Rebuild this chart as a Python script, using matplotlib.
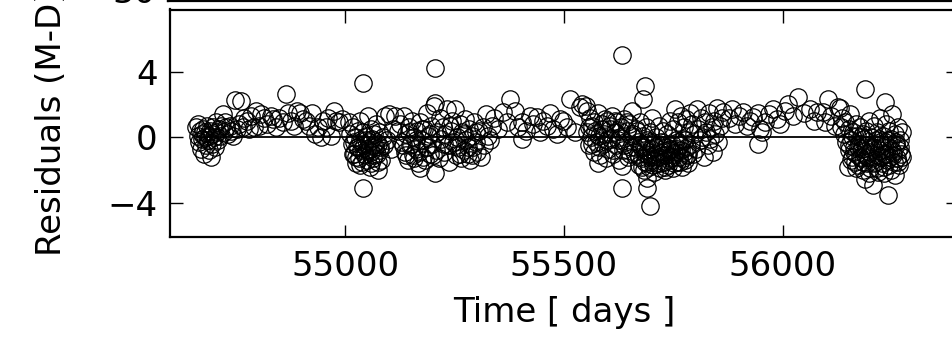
import matplotlib
matplotlib.use('Agg')
import matplotlib.pyplot as plt

##################
# Data
##################

# season 1
days1 = [54660, 54663, 54665, 54667, 54669, 54671, 54672, 54674, 54676, 54677,
         54679, 54681, 54683, 54684, 54686, 54688, 54689, 54691, 54693, 54695,
         54697, 54699, 54701, 54703, 54705, 54707, 54709, 54712, 54714, 54717,
         54720, 54723, 54726, 54729, 54732, 54736, 54740, 54744, 54749, 54752,
         54757, 54762, 54766, 54770, 54775, 54781, 54786, 54791, 54797, 54803,
         54808, 54815, 54822, 54830, 54836, 54843, 54850, 54858, 54866, 54870,
         54876, 54884, 54890, 54897, 54904, 54911, 54918, 54924, 54931, 54937,
         54944, 54950, 54956, 54962, 54968, 54974, 54980, 54986, 54992]
res1 = [0.6, 0.1, 0.8, -0.3, 0.4, -0.7, 0.2, -0.1, 0.5, -1.0,
        0.0, 0.3, -0.5, 0.7, -0.2, 0.1, -0.8, 0.4, -1.2, 0.2,
        -0.4, 0.6, 0.0, -0.6, 0.9, 0.3, -0.2, 0.5, 0.1, 0.7,
        1.4, 0.3, 0.9, 0.6, 0.2, 0.7, 0.4, 0.1, 2.3, 0.5,
        0.8, 2.2, 0.6, 1.2, 1.0, 0.5, 1.3, 0.6, 1.6, 0.7,
        1.4, 1.2, 0.8, 1.3, 1.1, 0.6, 1.2, 0.9, 2.65, 1.5,
        1.0, 0.7, 1.6, 1.5, 1.1, 1.0, 0.7, 1.5, 0.2, 0.6,
        0.0, 1.0, 0.6, 1.2, 0.1, 1.6, 1.0, 0.9, 1.1]

# season 2
daysB = [55008, 55012, 55015, 55018, 55020, 55022, 55025, 55027, 55029, 55031,
         55033, 55035, 55037, 55038, 55040, 55040, 55042, 55044, 55046, 55048,
         55050, 55052, 55054, 55056, 55058, 55060, 55062, 55064, 55066, 55068,
         55070, 55072, 55074, 55076, 55078, 55080, 55083, 55086, 55089, 55092,
         55096, 55100, 55105, 55110, 55115, 55120]
resB = [0.9, 0.2, -0.4, 0.6, -1.0, 0.0, -1.6, -0.6, 0.4, -1.3,
        -0.2, 1.0, -0.8, -1.5, 3.3, -3.1, 0.3, -0.5, -1.1, 0.1,
        -0.7, 1.3, -0.3, -1.8, 0.5, -0.9, -0.1, -1.3, 0.2, -0.6,
        0.8, -1.0, -2.0, -0.4, 0.3, -0.8, -1.4, 0.0, -0.5, 1.3,
        -0.2, 1.4, -0.7, 0.5, 1.3, 0.4]
daysB2 = [55017, 55021, 55026, 55030, 55034, 55039, 55043, 55047, 55051, 55055,
          55059, 55063, 55067, 55071, 55075, 55079]
resB2 = [-1.0, -0.3, -1.2, -0.6, -1.7, -0.4, -1.0, -0.2, -1.4, -0.8,
         -1.6, -0.5, -1.1, -0.3, -1.5, -0.6]

daysC = [55126, 55130, 55134, 55137, 55140, 55143, 55146, 55149, 55152, 55155,
         55158, 55161, 55164, 55167, 55170, 55172, 55175, 55178, 55181, 55184,
         55187, 55190, 55193, 55196, 55199, 55202, 55205, 55205, 55205, 55208,
         55211, 55214, 55217, 55220, 55223, 55226, 55229, 55232, 55235, 55238,
         55241, 55244, 55247, 55250, 55253, 55256, 55259, 55262, 55265, 55268,
         55271, 55274, 55277, 55280, 55283, 55286, 55289, 55292, 55295, 55298,
         55302, 55306, 55310, 55314, 55318, 55322, 55326, 55330, 55335, 55340]
resC = [0.8, -0.3, 1.3, -0.9, 0.2, -1.4, 0.6, -0.5, 1.0, -1.1,
        0.0, -0.7, 0.4, -1.6, -1.9, 0.9, -0.2, -1.2, 0.5, -0.6,
        1.5, 0.1, -1.0, 0.7, -0.4, 1.9, 4.2, -2.2, 2.1, -0.8,
        0.3, -1.3, 1.2, -0.1, 0.6, -0.9, 0.2, 1.7, -0.5, -1.5,
        0.4, 1.0, -0.3, 1.75, -1.1, 0.0, -0.6, 0.8, -1.3, 0.3,
        -0.8, 1.1, -0.2, -1.0, 0.5, -1.4, 0.1, -0.6, 0.9, -0.3,
        -0.9, 0.4, -1.2, 0.6, -0.5, 1.4, 0.1, -0.2, 0.7, 1.2]
daysC2 = [55133, 55139, 55145, 55151, 55157, 55163, 55169, 55176, 55182, 55188,
          55194, 55200, 55227, 55240, 55254, 55263, 55272, 55281, 55290, 55299]
resC2 = [-0.5, -1.1, 0.3, -0.4, -1.3, -0.2, -0.9, 0.5, -1.4, -0.6,
         0.2, -1.1, -0.4, 0.7, -0.5, -1.0, 0.2, -0.6, -1.1, 0.3]

daysS2 = [55350, 55361, 55370, 55377, 55388, 55396, 55404, 55404, 55414, 55422,
          55430, 55438, 55446, 55452, 55461, 55468, 55476, 55484, 55491, 55498,
          55506, 55514, 55525, 55537, 55541, 55553]
resS2 = [0.5, 1.55, 0.9, 2.35, 1.6, 0.6, -0.1, 0.95, 0.4, 1.3,
         0.8, 1.25, 0.3, 1.0, 0.7, 1.45, 0.5, 0.2, 1.1, 1.0,
         0.6, 2.35, 0.3, 1.85, 2.05, 1.6]

# season 3
daysD = [55550, 55553, 55556, 55559, 55562, 55565, 55568, 55571, 55574, 55577,
         55578, 55580, 55583, 55586, 55589, 55592, 55595, 55598, 55601, 55604,
         55607, 55610, 55613, 55616, 55619, 55622, 55625, 55628, 55631, 55632,
         55632, 55632, 55634, 55637, 55640, 55643, 55646, 55649, 55652, 55655,
         55658, 55661, 55664]
resD = [1.9, 0.3, -0.5, 1.2, 0.0, 0.7, -0.9, 0.4, -0.3, 1.5,
        -1.6, 0.1, -1.1, 0.8, -0.4, 0.2, -1.3, 1.0, -0.7, 0.5,
        -0.1, 1.3, -1.0, 0.3, -0.5, 0.9, -1.4, 0.0, 0.6, 5.0,
        -3.1, -1.75, -0.8, 1.1, -0.3, 0.4, -1.2, 0.8, -0.6, 1.6,
        0.2, -0.9, 0.5]
daysD2 = [55557, 55563, 55569, 55575, 55581, 55587, 55593, 55599, 55605, 55611,
          55617, 55623, 55629, 55638, 55644, 55650, 55656, 55662]
resD2 = [0.6, -0.4, 0.9, 0.2, -0.6, 0.5, 1.1, -0.2, 0.7, -0.8,
         1.0, -0.2, 0.4, -0.5, 0.9, -1.0, 0.1, -0.6]

daysE = [55666, 55668, 55670, 55672, 55674, 55676, 55678, 55680, 55680, 55682,
         55684, 55685, 55686, 55688, 55690, 55690, 55690, 55692, 55694, 55696,
         55696, 55698, 55700, 55702, 55704, 55706, 55708, 55710, 55712, 55714,
         55716, 55718, 55720, 55722, 55724, 55726, 55728, 55730, 55732, 55734,
         55736, 55738, 55740, 55742, 55744, 55746, 55748, 55750, 55752, 55753,
         55755, 55757, 55759, 55761, 55763, 55765, 55767, 55769, 55771, 55773,
         55775, 55777, 55779, 55781, 55783, 55785, 55787]
resE = [0.4, -1.0, -0.3, -1.7, 0.9, -0.6, -1.3, 2.35, 0.1, -2.0,
        -0.8, 3.15, -1.5, 0.6, -3.1, -2.5, -0.2, -1.1, -1.8, -4.2,
        0.3, -0.7, -1.4, 1.2, -0.4, -2.1, -1.0, 0.0, -1.6, -0.5,
        0.7, -1.2, -1.9, -0.3, -0.9, 0.4, -1.5, -2.0, -0.6, -1.1,
        0.2, -1.7, -0.8, 1.0, -1.3, -0.4, -1.9, 0.5, -1.0, 1.75,
        -0.2, -1.5, -0.7, 0.9, -1.2, -0.5, 1.3, -1.8, -0.1, -0.9,
        0.6, -1.4, 1.1, -0.6, -1.0, 0.3, 1.5]
daysE2 = [55671, 55675, 55679, 55683, 55687, 55691, 55695, 55699, 55703, 55707,
          55711, 55715, 55719, 55723, 55727, 55731, 55735, 55739, 55743, 55747,
          55751, 55756, 55760, 55764, 55768, 55772, 55776, 55780, 55784]
resE2 = [-1.2, -0.4, -1.8, -0.6, -1.0, -1.6, -0.3, -1.2, -1.7, -0.6,
         -1.3, -0.9, -1.6, -0.5, -1.1, -1.8, -0.4, -1.4, -0.7, -1.2,
         -1.6, -0.9, -0.3, -1.5, -0.8, -1.3, -0.2, -1.1, -1.6]

daysF = [55790, 55793, 55795, 55798, 55801, 55804, 55807, 55810, 55813, 55816,
         55819, 55822, 55825, 55828, 55831, 55834, 55837, 55840, 55843, 55846,
         55849, 55852, 55856, 55860, 55864]
resF = [-0.4, 0.8, -1.0, 0.2, -0.7, 1.75, 0.5, -0.2, 1.2, 0.0,
        -1.2, 0.9, 0.3, -0.5, 1.5, -0.1, 0.6, -0.9, 1.0, 0.2,
        1.8, -0.3, 0.7, 1.2, 1.55]

daysS3 = [55876, 55884, 55890, 55900, 55909, 55918, 55925, 55932, 55943, 55943,
          55947, 55952, 55959, 55968, 55977, 55986, 55993, 56005, 56011, 56022,
          56034, 56048, 56062, 56070, 56078, 56091, 56097, 56103, 56110, 56118,
          56125]
resS3 = [1.2, 1.75, 0.8, 1.3, 1.55, 0.7, 1.0, 1.25, 1.45, -0.4,
         0.5, 0.3, 0.95, 1.4, 1.75, 1.1, 0.8, 1.6, 2.05, 1.3,
         2.45, 1.5, 1.75, 1.0, 1.55, 1.55, 0.9, 2.35, 1.3, 0.7,
         1.85]

# season 4
daysG = [56130, 56133, 56136, 56139, 56142, 56145, 56148, 56150, 56152, 56154,
         56156, 56158, 56160, 56162, 56164, 56166, 56168, 56170, 56172, 56174,
         56176, 56178, 56180, 56182, 56184, 56186, 56187, 56187, 56188, 56190,
         56192, 56194, 56196, 56198, 56200, 56202, 56204, 56205, 56206, 56208,
         56210, 56212, 56214, 56216, 56218, 56220, 56222, 56224, 56226, 56228,
         56230, 56232, 56233, 56234, 56236, 56238, 56240, 56240, 56242, 56244,
         56246, 56248, 56250, 56252, 56254, 56256, 56258, 56260, 56262, 56264,
         56266, 56268, 56270, 56272]
resG = [1.8, 0.6, 1.2, 0.2, 0.9, -0.3, -1.8, 0.5, -0.8, 1.4,
        -0.2, -1.2, 0.3, -0.6, -1.5, 0.8, -1.0, 0.1, -1.7, -0.4,
        0.6, -1.3, -0.7, 0.2, -2.0, -0.1, 2.95, -2.55, -1.1, 0.4,
        -1.6, -0.5, 1.0, -0.9, -1.9, 0.0, -1.3, -2.95, -0.6, 0.7,
        -1.5, -0.2, -1.1, 0.3, -2.1, -0.8, 1.2, -0.4, -1.6, 0.1,
        -1.0, -1.8, 2.15, -0.3, 0.8, -1.4, -3.55, -0.6, 0.4, -1.2,
        -2.0, -0.1, 1.4, -0.9, -1.5, 0.2, -0.5, -1.3, 0.6, -0.8,
        -1.7, -0.2, -1.0, 0.3]
daysG2 = [56151, 56155, 56159, 56163, 56167, 56171, 56175, 56179, 56183, 56189,
          56193, 56197, 56201, 56207, 56211, 56215, 56219, 56223, 56227, 56231,
          56235, 56239, 56243, 56247, 56251, 56255, 56259, 56263, 56267, 56271]
resG2 = [-0.5, -1.4, 0.1, -0.9, -1.9, -0.6, -1.2, 0.0, -1.5, -0.5,
         -1.2, -2.2, -0.7, -1.6, -0.4, -1.9, -0.1, -1.2, -0.6, -2.2,
         -1.0, -0.2, -1.7, -0.7, -1.1, -2.3, -0.3, -1.5, -0.6, -1.2]

xticks = [55000, 55500, 56000]
yticks = [-4, 0, 4]

#############################
# Figure
#############################

W, H = 953, 339
fig = plt.figure(figsize=(W/100., H/100.), dpi=100)
plt.rcParams['font.family'] = 'DejaVu Sans'
fs = 24.5

left = 170./W
width = 788./W
ax = fig.add_axes([left, 1-237./H, width, (237.-9.5)/H])

all_days = (days1 + daysB + daysB2 + daysC + daysC2 + daysS2 + daysD + daysD2
            + daysE + daysE2 + daysF + daysS3 + daysG + daysG2)
all_res = (res1 + resB + resB2 + resC + resC2 + resS2 + resD + resD2
           + resE + resE2 + resF + resS3 + resG + resG2)

ax.plot([min(all_days), max(all_days)], [0, 0], '-', color='k', lw=1.3, zorder=1)
ax.plot(all_days, all_res, 'o', mfc='none', mec='k', mew=0.9, ms=12.5, zorder=2)

ax.set_xlim(54600, 56400)
ax.set_ylim(-6.1, 7.8)
ax.set_xticks(xticks)
ax.set_yticks(yticks)
ax.tick_params(direction='in', length=9, width=1, top=True, right=True,
               labelsize=fs, pad=9)
for s in ax.spines.values():
    s.set_linewidth(1.6)
ax.set_xlabel('Time [ days ]', fontsize=fs, labelpad=10)
ax.set_ylabel('Residuals (M-D)', fontsize=fs, labelpad=28)

# bottom of the panel above, mostly outside the crop
ax2 = fig.add_axes([left - 2./W, 1-1./H, width, 0.3])
ax2.set_ylim(26.3, 60)
ax2.set_yticks([30])
ax2.set_xticks([])
ax2.tick_params(direction='in', length=9, width=1, labelsize=fs, pad=9)
for s in ax2.spines.values():
    s.set_linewidth(1.6)

fig.savefig('out.png', dpi=100)
